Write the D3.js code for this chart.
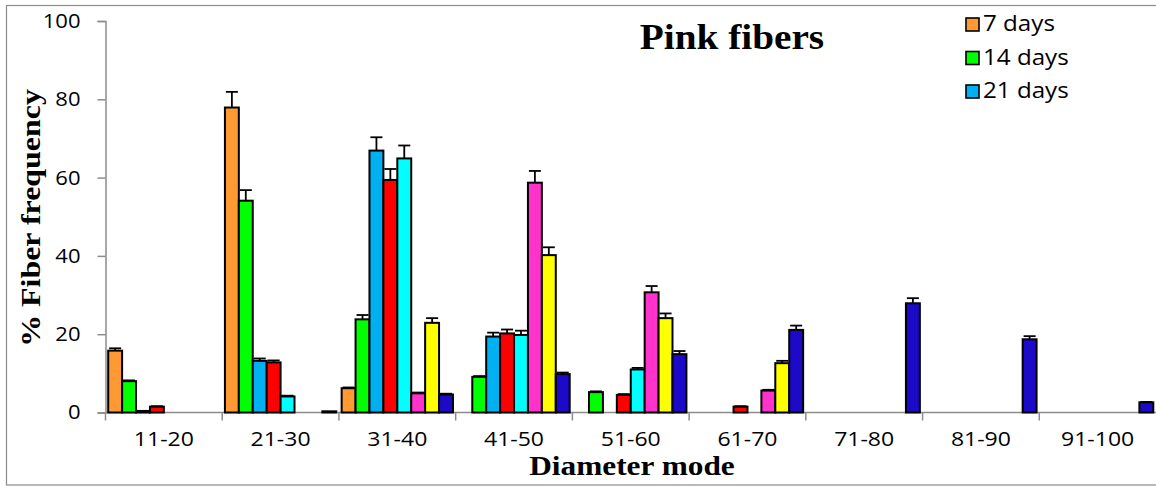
<!DOCTYPE html>
<html>
<head>
<meta charset="utf-8">
<script src="https://cdn.jsdelivr.net/npm/d3@7"></script>
<style>
  body { margin: 0; background: #fff; }
  svg { display: block; }
  text { font-family: "Open Sans", sans-serif; fill: #000; }
</style>
</head>
<body>
<svg></svg>
<script>
// chart data
var categories = ["11-20", "21-30", "31-40", "41-50", "51-60", "61-70", "71-80", "81-90", "91-100"];
var seriesNames = ["7 days", "14 days", "21 days", "28 days", "35 days", "42 days", "49 days", "56 days"];
var legendNames = ["7 days", "14 days", "21 days"];
var yTicks = [0, 20, 40, 60, 80, 100];

var d7  = [15.8, 77.9, 6.2, 0, 0, 0, 0, 0, 0];
var d14 = [8.0, 54.1, 23.8, 9.1, 5.2, 0, 0, 0, 0];
var d21 = [0.4, 13.2, 66.9, 19.4, 0, 0, 0, 0, 0];
var d28 = [1.5, 12.8, 59.4, 20.2, 4.5, 1.5, 0, 0, 0];
var d35 = [0, 4.1, 64.9, 19.8, 11.0, 0, 0, 0, 0];
var d42 = [0, 0, 4.9, 58.7, 30.7, 5.6, 0, 0, 0];
var d49 = [0, 0, 22.9, 40.2, 24.1, 12.6, 0, 0, 0];
var d56 = [0, 0.3, 4.6, 9.8, 14.9, 21.1, 27.9, 18.7, 2.6];

var e7  = [0.6, 4.0, 0.2, 0, 0, 0, 0, 0, 0];
var e14 = [0.2, 2.7, 1.1, 0.2, 0.2, 0, 0, 0, 0];
var e21 = [0, 0.6, 3.4, 1.0, 0, 0, 0, 0, 0];
var e28 = [0.1, 0.5, 2.8, 1.0, 0.2, 0.1, 0, 0, 0];
var e35 = [0, 0.2, 3.3, 1.1, 0.4, 0, 0, 0, 0];
var e42 = [0, 0, 0.2, 3.0, 1.6, 0.2, 0, 0, 0];
var e49 = [0, 0, 1.2, 2.0, 1.2, 0.6, 0, 0, 0];
var e56 = [0, 0, 0.2, 0.4, 0.8, 1.1, 1.3, 0.8, 0.1];

var values = [d7, d14, d21, d28, d35, d42, d49, d56];
var errors = [e7, e14, e21, e28, e35, e42, e49, e56];

var width = 1156,
    height = 486,
    margin = {top: 21, right: 0, bottom: 73.5, left: 105.5},
    color = d3.scaleOrdinal()
        .domain(seriesNames)
        .range(["#FF9933", "#00FF00", "#00B0F0", "#FF0000", "#00FFFF", "#FF33CC", "#FFFF00", "#1C0AC8"]),
    axisColor = "#8c8c8c";

var svg = d3.select("svg").attr("width", width).attr("height", height);

// stretch text a bit, the original fonts are wider
function stretch(sel, k) {
    sel.each(function() {
        var w = this.getComputedTextLength();
        d3.select(this).attr("textLength", w * k).attr("lengthAdjust", "spacingAndGlyphs");
    });
}

// outer frame
svg.append("rect")
    .attr("x", 6.5).attr("y", 5.5)
    .attr("width", width).attr("height", 479.5)
    .attr("fill", "none")
    .attr("stroke", axisColor)
    .attr("stroke-width", 1.2);

var x0 = d3.scaleBand()
    .domain(categories)
    .range([margin.left, width - margin.right])
    .padding(0);

var x1 = d3.scaleBand()
    .domain(seriesNames)
    .range([2.7, x0.bandwidth() - 2.7])
    .padding(0);

var y = d3.scaleLinear()
    .domain([0, 100])
    .range([height - margin.bottom, margin.top]);

// axes
var yAxis = svg.append("g")
    .attr("transform", "translate(" + margin.left + ",0)")
    .call(d3.axisLeft(y).tickValues(yTicks).tickSize(8).tickPadding(17));
yAxis.select(".domain").attr("stroke", axisColor).attr("stroke-width", 1.5);
yAxis.selectAll(".tick line").attr("stroke", axisColor).attr("stroke-width", 1.5);
yAxis.selectAll("text").attr("font-size", 20).attr("font-family", "Open Sans").attr("fill", "#000");
stretch(yAxis.selectAll("text"), 1.1);

var xAxis = svg.append("g")
    .attr("transform", "translate(0," + y(0) + ")");
xAxis.append("line")
    .attr("x1", margin.left).attr("x2", width)
    .attr("stroke", axisColor).attr("stroke-width", 1.5);
xAxis.selectAll(".xtick")
    .data(categories)
    .enter().append("line")
    .attr("class", "xtick")
    .attr("x1", function(d) { return x0(d); })
    .attr("x2", function(d) { return x0(d); })
    .attr("y1", 0).attr("y2", 8)
    .attr("stroke", axisColor).attr("stroke-width", 1.5);
var xLabels = xAxis.selectAll(".xlabel")
    .data(categories)
    .enter().append("text")
    .attr("class", "xlabel")
    .attr("x", function(d) { return x0(d) + x0.bandwidth() / 2; })
    .attr("y", 33.5)
    .attr("text-anchor", "middle")
    .attr("font-size", 20)
    .text(function(d) { return d; });
stretch(xLabels, 1.15);

// bars
var rows = [];
categories.forEach(function(c, i) {
    seriesNames.forEach(function(s, j) {
        rows.push({cat: c, series: s, value: values[j][i], err: errors[j][i]});
    });
});
var shown = rows.filter(function(d) { return d.value > 0; });

var bar = svg.selectAll(".bar")
    .data(shown)
    .enter().append("g")
    .attr("class", "bar")
    .attr("transform", function(d) { return "translate(" + (x0(d.cat) + x1(d.series)) + ",0)"; });

bar.filter(function(d) { return d.err > 0; })
    .each(function(d) {
        var g = d3.select(this), cx = x1.bandwidth() / 2;
        g.append("line")
            .attr("x1", cx).attr("x2", cx)
            .attr("y1", y(d.value)).attr("y2", y(d.value + d.err))
            .attr("stroke", "#000").attr("stroke-width", 1.8);
        g.append("line")
            .attr("x1", cx - 6).attr("x2", cx + 6)
            .attr("y1", y(d.value + d.err)).attr("y2", y(d.value + d.err))
            .attr("stroke", "#000").attr("stroke-width", 1.8);
    });

bar.append("rect")
    .attr("y", function(d) { return y(d.value); })
    .attr("width", x1.bandwidth())
    .attr("height", function(d) { return y(0) - y(d.value); })
    .attr("fill", function(d) { return color(d.series); })
    .attr("stroke", "#000")
    .attr("stroke-width", 2);

// titles
var title = svg.append("text")
    .attr("x", 732).attr("y", 49)
    .attr("text-anchor", "middle")
    .style("font-family", "'Liberation Serif', 'Times New Roman', serif")
    .style("font-weight", "bold")
    .attr("font-size", 36)
    .text("Pink fibers");
stretch(title, 1.09);

var xTitle = svg.append("text")
    .attr("x", 632).attr("y", 475)
    .attr("text-anchor", "middle")
    .style("font-family", "'Liberation Serif', 'Times New Roman', serif")
    .style("font-weight", "bold")
    .attr("font-size", 27)
    .text("Diameter mode");
stretch(xTitle, 1.16);

var yTitle = svg.append("text")
    .attr("transform", "translate(40,218) rotate(-90)")
    .attr("text-anchor", "middle")
    .style("font-family", "'Liberation Serif', 'Times New Roman', serif")
    .style("font-weight", "bold")
    .attr("font-size", 28)
    .text("% Fiber frequency");
stretch(yTitle, 1.14);

// legend, only the first three entries are visible
var legend = svg.append("g")
    .selectAll("g")
    .data(legendNames)
    .enter().append("g")
    .attr("transform", function(d, i) { return "translate(966," + (18 + i * 33.5) + ")"; });

legend.append("rect")
    .attr("width", 13).attr("height", 13)
    .attr("fill", function(d) { return color(d); })
    .attr("stroke", "#000")
    .attr("stroke-width", 1.6);

var legendText = legend.append("text")
    .attr("x", 17).attr("y", 13)
    .attr("font-size", 21)
    .text(function(d) { return d; });
stretch(legendText, 1.15);
</script>
</body>
</html>
